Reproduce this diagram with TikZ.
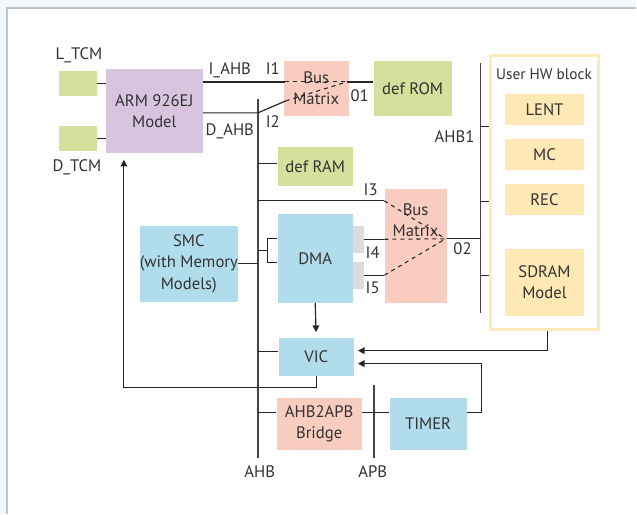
\documentclass[tikz,border=0pt]{standalone}
\usepackage{fontspec}
\setmainfont{PT Sans}
\usetikzlibrary{arrows.meta,positioning,calc}
\definecolor{blkGreen}{RGB}{213,224,156}
\definecolor{blkPurple}{RGB}{217,196,224}
\definecolor{blkSalmon}{RGB}{248,205,192}
\definecolor{blkBlue}{RGB}{177,220,236}
\definecolor{blkYellow}{RGB}{253,232,182}
\definecolor{hwBorder}{RGB}{253,236,186}
\definecolor{portGray}{RGB}{220,220,220}
\definecolor{txtGray}{RGB}{51,51,51}
\definecolor{busGray}{RGB}{68,68,68}
\definecolor{pageBlue}{RGB}{242,248,252}
\definecolor{frameGray}{RGB}{192,196,200}

\tikzset{
  blk/.style={inner sep=0pt, align=center, text=txtGray},
  sz/.style 2 args={minimum width=#1*0.75pt, minimum height=#2*0.75pt},
  lbl/.style={text=txtGray, anchor=base},
  wire/.style={line width=0.9pt, black!85},
  bus/.style={line width=1.3pt, busGray},
  xfer/.style={line width=0.8pt, dashed, black!85},
  arr/.style={wire, -{Triangle[length=5pt,width=5pt]}},
}

\begin{document}
\begin{tikzpicture}[x=0.75pt,y=-0.75pt, font=\fontsize{12.5}{16}\selectfont]
% page
\fill[pageBlue] (0,0) rectangle (637,514);
\fill[white] (7,8) rectangle (637,514);
\draw[frameGray, line width=0.9pt] (7,514) -- (7,8) -- (637,8);

% blocks
\node[blk, sz={38}{25}, fill=blkGreen] (ltcm) at (78,83.5) {};
\node[blk, sz={38}{25}, fill=blkGreen] (dtcm) at (78,138.5) {};
\node[blk, sz={97}{84}, fill=blkPurple] (arm) at (154.5,111) {ARM 926EJ\\Model};
\node[blk, sz={65}{55}, fill=blkSalmon] (bm1) at (316.5,88.5) {Bus\\Matrix};
\node[blk, sz={78}{55}, fill=blkGreen] (rom) at (413,88.5) {def ROM};
\node[blk, sz={75}{39}, fill=blkGreen] (ram) at (315.5,166.5) {def RAM};
\node[blk, sz={62}{114}, fill=blkSalmon,
  label={[blk, anchor=north, yshift=-11pt]north:{Bus\\Matrix}}] (bm2) at (416,246) {};
\node[blk, sz={75}{89}, fill=blkBlue] (dma) at (315.5,258.5) {DMA};
\node[blk, sz={11}{27}, fill=portGray] (port1) at (358.5,239.5) {};
\node[blk, sz={11}{27}, fill=portGray] (port2) at (358.5,275.5) {};
\node[blk, sz={98}{76}, fill=blkBlue] (smc) at (189,264) {SMC\\(with Memory\\Models)};
\node[blk, sz={75}{38}, fill=blkBlue] (vic) at (316.5,357) {VIC};
\node[blk, sz={85}{52}, fill=blkSalmon] (bridge) at (319.5,424) {AHB2APB\\Bridge};
\node[blk, sz={77}{52}, fill=blkBlue] (timer) at (428.5,424) {TIMER};

% user hw block
\node[blk, sz={108}{274}, draw=hwBorder, line width=2.2pt] (hw) at (545,193) {};
\node[lbl, font=\fontsize{11.5}{14}\selectfont] (hwlbl) at (544.5,80) {User HW block};
\node[blk, sz={80}{31}, fill=blkYellow] (lent) at (545,109.5) {LENT};
\node[blk, sz={80}{31}, fill=blkYellow] (mc) at (545,154.5) {MC};
\node[blk, sz={80}{31}, fill=blkYellow] (rec) at (545,199.5) {REC};
\node[blk, sz={80}{67}, fill=blkYellow] (sdram) at (545,282.5) {SDRAM\\Model};

% labels
\node[lbl] (ltcmlbl) at (79,60) {L\_TCM};
\node[lbl] (dtcmlbl) at (77,172) {D\_TCM};
\node[lbl] (iahblbl) at (230,75) {I\_AHB};
\node[lbl] (dahblbl) at (230,136) {D\_AHB};
\node[lbl] (i1lbl) at (273,75) {I1};
\node[lbl] (i2lbl) at (273,128) {I2};
\node[lbl] (o1lbl) at (360,102) {01};
\node[lbl] (ahb1lbl) at (455,143) {AHB1};
\node[lbl] (i3lbl) at (371,196) {I3};
\node[lbl] (i4lbl) at (373,259) {I4};
\node[lbl] (i5lbl) at (373,294) {I5};
\node[lbl] (o2lbl) at (463,255) {02};
\node[lbl] (ahblbl) at (260,478) {AHB};
\node[lbl] (apblbl) at (373,478) {APB};

% buses
\coordinate (ahbT) at (258,99);
\coordinate (ahbB) at (258,458);
\coordinate (apbT) at (374,385);
\coordinate (apbB) at (374,458);
\coordinate (ahb1T) at (481,63);
\coordinate (ahb1B) at (481,313);
\draw[bus] (ahbT) -- (ahbB);
\draw[bus] (apbT) -- (apbB);
\draw[bus] (ahb1T) -- (ahb1B);

% bus matrix ports
\coordinate (i1) at (285,82);
\coordinate (i2) at (286,101);
\coordinate (o1) at (347,82);
\coordinate (o2) at (446,239);
\coordinate (dmaj) at (268,251);

% ARM side
\draw[wire] (ltcm.east) -- (arm.west |- ltcm.east);
\draw[wire] (dtcm.east) -- (arm.west |- dtcm.east);
\draw[wire] (arm.east |- i1) -- (i1);
\draw[wire] (arm.east |- 0,113) -- (ahbT |- 0,113) -- (i2);
\draw[xfer] (i1) -- (o1);
\draw[xfer] (i2) -- (o1);
\draw[wire] (o1) -- (rom.west |- o1);

% AHB side
\draw[wire] (ahbT |- 0,164) -- (ram.west |- 0,164);
\draw[wire] (ahbT |- 0,201) -- (bm2.west |- 0,201);
\draw[xfer] (bm2.west |- 0,201) -- (o2);
\draw[wire] (port1.east) -- (bm2.west |- port1.east);
\draw[xfer] (bm2.west |- port1.east) -- (o2);
\draw[wire] (port2.east) -- (bm2.west |- port2.east);
\draw[xfer] (bm2.west |- port2.east) -- (o2);
\draw[wire] (bm2.east |- o2) -- (ahb1T |- o2);
\draw[wire] (ahbT |- dmaj) -- (dmaj);
\draw[wire] (dma.west |- 0,239) -| (dmaj |- 0,263) -- (dma.west |- 0,263);
\draw[wire] (smc.east) -- (smc.east -| ahbT);
\draw[wire] (ahbT |- 0,352) -- (vic.west |- 0,352);
\draw[wire] (ahbT |- 0,413) -- (bridge.west |- 0,413);
\draw[wire] (bridge.east |- 0,413) -- (timer.west |- 0,413);
\foreach \y in {127,202,276}
  \draw[wire] (ahb1T |- 0,\y) -- (hw.west |- 0,\y);

% interrupts
\coordinate (irq) at (124,388);
\coordinate (tmr) at (482,364);
\draw[arr, shorten >=4pt] (dma.south) -- (vic.north);
\draw[arr, shorten >=5pt] (vic.south) |- (irq) -- (irq |- arm.south);
\draw[arr, shorten >=3pt] ([xshift=2pt]hw.south) |- ([yshift=4.5pt]vic.east);
\draw[arr, shorten >=3pt] (timer.east |- 0,413) -| (tmr) -- (vic.east |- tmr);
\end{tikzpicture}
\end{document}
